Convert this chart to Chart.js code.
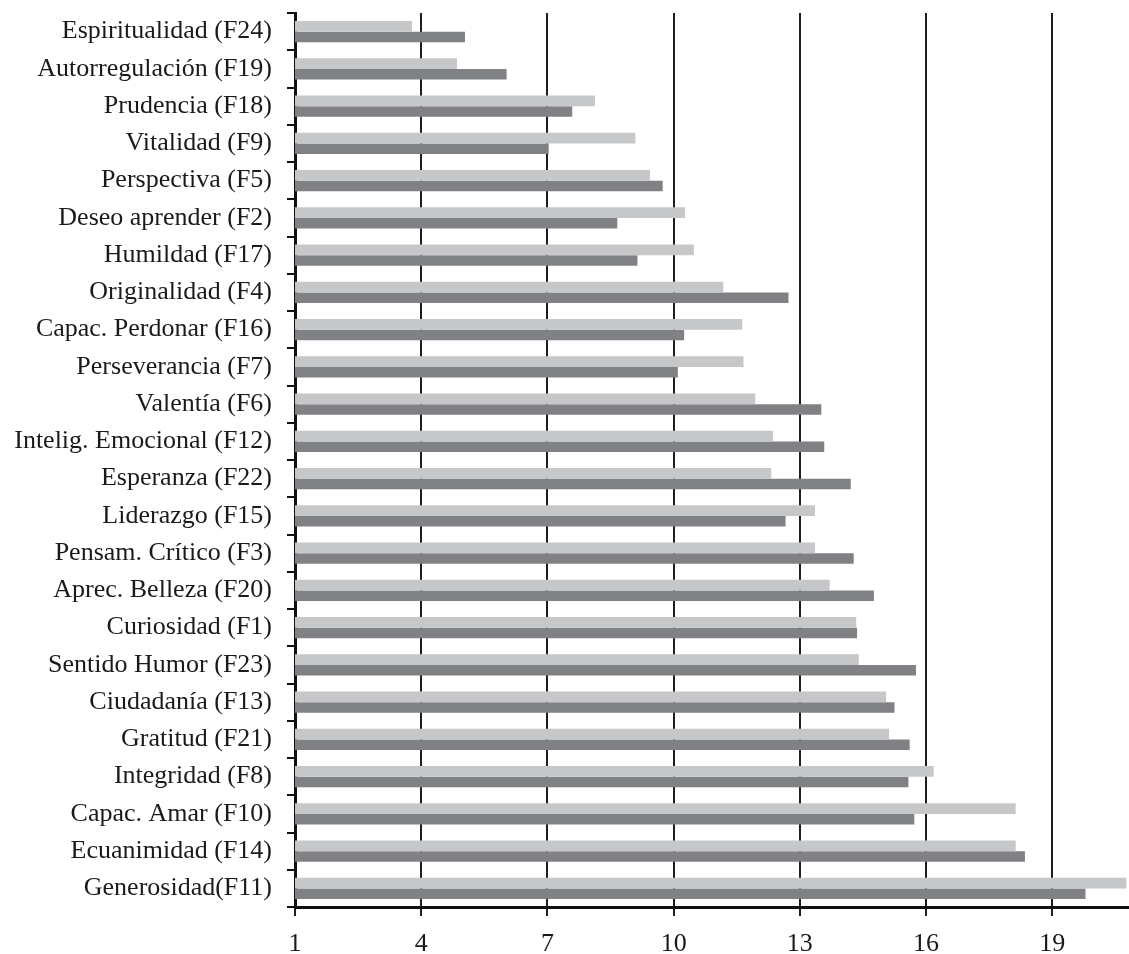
<!DOCTYPE html>
<html>
<head>
<meta charset="utf-8">
<script src="https://cdn.jsdelivr.net/npm/chart.js@4/dist/chart.umd.min.js"></script>
<style>
    html, body { margin: 0; padding: 0; background: #ffffff; }
    #chart { display: block; }
</style>
</head>
<body>
<canvas id="chart" width="1129" height="954"></canvas>
<script>
// categorías (de arriba abajo)
const fortalezas = [
    'Espiritualidad (F24)', 'Autorregulación (F19)', 'Prudencia (F18)', 'Vitalidad (F9)',
    'Perspectiva (F5)', 'Deseo aprender (F2)', 'Humildad (F17)', 'Originalidad (F4)',
    'Capac. Perdonar (F16)', 'Perseverancia (F7)', 'Valentía (F6)', 'Intelig. Emocional (F12)',
    'Esperanza (F22)', 'Liderazgo (F15)', 'Pensam. Crítico (F3)', 'Aprec. Belleza (F20)',
    'Curiosidad (F1)', 'Sentido Humor (F23)', 'Ciudadanía (F13)', 'Gratitud (F21)',
    'Integridad (F8)', 'Capac. Amar (F10)', 'Ecuanimidad (F14)', 'Generosidad(F11)'
];

// serie gris claro
const serieClara = [
    3.78, 4.85, 8.13, 9.09, 9.44, 10.27, 10.48, 11.18,
    11.63, 11.66, 11.94, 12.36, 12.32, 13.36, 13.36, 13.71,
    14.34, 14.40, 15.05, 15.12, 16.18, 18.13, 18.13, 20.76
];

// serie gris oscuro
const serieOscura = [
    5.04, 6.03, 7.59, 7.03, 9.74, 8.66, 9.14, 12.73,
    10.25, 10.10, 13.51, 13.58, 14.21, 12.66, 14.28, 14.76,
    14.36, 15.76, 15.25, 15.61, 15.58, 15.72, 18.35, 19.79
];

// marcas del eje x
const marcasX = [1, 4, 7, 10, 13, 16, 19];

const fuente = { family: '"Liberation Serif", "Times New Roman", serif', size: 26 };

const ctx = document.getElementById('chart').getContext('2d');
const chart = new Chart(ctx, {
    type: 'bar',
    data: {
        labels: fortalezas,
        datasets: [{
            label: 'Serie 1',
            data: serieClara,
            backgroundColor: '#c6c7c9',
            borderWidth: 0
        }, {
            label: 'Serie 2',
            data: serieOscura,
            backgroundColor: '#808185',
            borderWidth: 0
        }]
    },
    options: {
        indexAxis: 'y',
        responsive: false,
        animation: false,
        layout: {
            padding: { top: 13, right: 1, left: 0, bottom: 0 }
        },
        datasets: {
            bar: {
                categoryPercentage: 0.565,
                barPercentage: 1.0
            }
        },
        plugins: {
            legend: { display: false },
            tooltip: { enabled: false }
        },
        scales: {
            x: {
                type: 'linear',
                min: 1,
                max: 20.8,
                afterBuildTicks: scale => {
                    scale.ticks = marcasX.map(v => ({ value: v }));
                },
                afterFit: scale => {
                    scale.height = 47;
                    scale.paddingRight = 0;
                },
                grid: {
                    color: '#1e1e1e',
                    lineWidth: 2,
                    drawTicks: true,
                    tickLength: 9
                },
                border: {
                    display: true,
                    color: '#111111',
                    width: 3
                },
                ticks: {
                    color: '#1a1a1a',
                    padding: 13,
                    maxRotation: 0,
                    font: fuente
                }
            },
            y: {
                type: 'category',
                offset: true,
                afterFit: scale => {
                    scale.width = 295;
                    scale.paddingTop = 0;
                    scale.paddingBottom = 0;
                },
                grid: {
                    offset: true,
                    drawOnChartArea: false,
                    drawTicks: true,
                    tickLength: 8,
                    color: '#111111',
                    lineWidth: 2
                },
                border: {
                    display: true,
                    color: '#111111',
                    width: 3
                },
                ticks: {
                    color: '#1a1a1a',
                    padding: 15,
                    autoSkip: false,
                    font: fuente
                }
            }
        }
    }
});
</script>
</body>
</html>
